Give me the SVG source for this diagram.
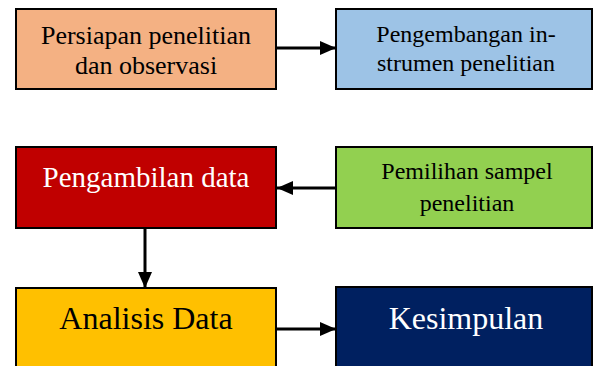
<svg xmlns="http://www.w3.org/2000/svg" width="595" height="366" viewBox="0 0 595 366">
<style>
.box{stroke:#000;stroke-width:2}
.t{font-family:"Liberation Serif","Times New Roman",serif;text-anchor:middle}
.conn{stroke:#000;stroke-width:3;fill:none}
</style>
<defs>
<marker id="ah" markerUnits="userSpaceOnUse" markerWidth="16" markerHeight="14" refX="16" refY="7" orient="auto">
<path d="M0,0 L16,7 L0,14 Z" fill="#000"/>
</marker>
</defs>
<rect width="595" height="366" fill="#fff"/>
<g id="connectors">
<line class="conn" x1="277" y1="48" x2="336" y2="48" marker-end="url(#ah)"/>
<line class="conn" x1="336" y1="188" x2="277" y2="188" marker-end="url(#ah)"/>
<line class="conn" x1="145" y1="229" x2="145" y2="288" marker-end="url(#ah)"/>
<line class="conn" x1="277" y1="329" x2="336" y2="329" marker-end="url(#ah)"/>
</g>
<g id="persiapan">
<rect class="box" x="16" y="9" width="260" height="80" fill="#F4B183"/>
<text class="t" x="146" y="44" font-size="26">Persiapan penelitian</text>
<text class="t" x="146" y="74" font-size="26">dan observasi</text>
</g>
<g id="pengembangan">
<rect class="box" x="336" y="9" width="256" height="80" fill="#9DC3E6"/>
<text class="t" x="466" y="42" font-size="24">Pengembangan in-</text>
<text class="t" x="466" y="71" font-size="24">strumen penelitian</text>
</g>
<g id="pengambilan">
<rect class="box" x="16" y="147" width="260" height="81" fill="#C00000"/>
<text class="t" x="146" y="187" font-size="29" fill="#fff">Pengambilan data</text>
</g>
<g id="pemilihan">
<rect class="box" x="336" y="147" width="256" height="81" fill="#92D050"/>
<text class="t" x="467" y="179" font-size="24">Pemilihan sampel</text>
<text class="t" x="467" y="211" font-size="24">penelitian</text>
</g>
<g id="analisis">
<rect class="box" x="16" y="288" width="260" height="90" fill="#FFC000"/>
<text class="t" x="146" y="329" font-size="32">Analisis Data</text>
</g>
<g id="kesimpulan">
<rect class="box" x="336" y="287" width="256" height="90" fill="#002060"/>
<text class="t" x="466" y="329" font-size="32" fill="#fff">Kesimpulan</text>
</g>
</svg>
